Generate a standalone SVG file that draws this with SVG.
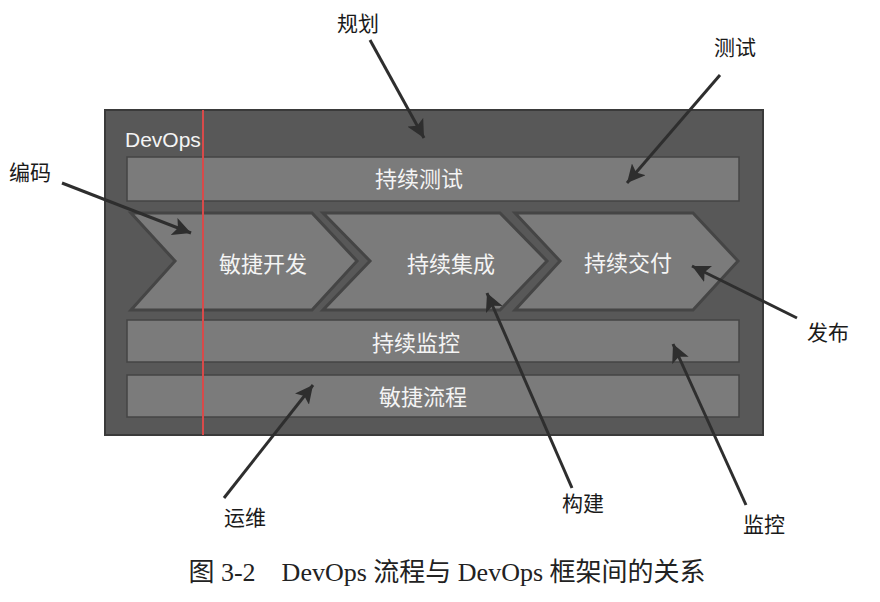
<svg xmlns="http://www.w3.org/2000/svg" width="880" height="602" viewBox="0 0 880 602">
<style>
.lbl{font-family:"Noto Sans CJK SC","Noto Sans",sans-serif;font-size:21px;fill:#1a1a1a;text-anchor:middle;dominant-baseline:central}
.in{font-family:"Noto Sans CJK SC","Noto Sans",sans-serif;font-size:22px;fill:#f4f4f4;text-anchor:middle;dominant-baseline:central}
.bar{fill:#7b7b7b;stroke:#444;stroke-width:1.5}
.chev{fill:#7b7b7b;stroke:#454545;stroke-width:3;stroke-linejoin:miter}
.conn{stroke:#2e2e2e;stroke-width:3;fill:none;marker-end:url(#ah)}
</style>
<defs>
<marker id="ah" markerUnits="userSpaceOnUse" markerWidth="20" markerHeight="18" refX="18" refY="9" orient="auto">
<path d="M0,0 L18,9 L0,18 L4,9 Z" fill="#2e2e2e"/>
</marker>
</defs>
<rect width="880" height="602" fill="#ffffff"/>
<g id="frame">
<rect x="105" y="110" width="658" height="325" fill="#585858" stroke="#3a3a3a" stroke-width="2"/>
<text x="125" y="147" font-family="Liberation Sans, Arial, sans-serif" font-size="21" fill="#f4f4f4">DevOps</text>
</g>
<g id="bar-test">
<rect class="bar" x="127" y="157" width="612" height="44"/>
<text class="in" x="419" y="177">持续测试</text>
</g>
<g id="chev-agile">
<polygon class="chev" points="131,213 312,213 357,261 312,310 131,310 175,261"/>
<text class="in" x="263" y="262">敏捷开发</text>
</g>
<g id="chev-ci">
<polygon class="chev" points="323,213 500,213 547,261 500,310 323,310 370,261"/>
<text class="in" x="451" y="262">持续集成</text>
</g>
<g id="chev-cd">
<polygon class="chev" points="515,213 693,213 738,261 693,310 515,310 560,261"/>
<text class="in" x="628" y="261">持续交付</text>
</g>
<g id="bar-monitor">
<rect class="bar" x="127" y="320" width="612" height="42"/>
<text class="in" x="416" y="341">持续监控</text>
</g>
<g id="bar-process">
<rect class="bar" x="127" y="375" width="612" height="42"/>
<text class="in" x="423" y="395">敏捷流程</text>
</g>
<line id="red-line" x1="203" y1="110" x2="203" y2="435" stroke="#d84a4a" stroke-width="2"/>
<g id="connectors">
<line class="conn" x1="370" y1="40" x2="424" y2="138"/>
<line class="conn" x1="720" y1="75" x2="627" y2="183"/>
<line class="conn" x1="62" y1="183" x2="191" y2="233"/>
<line class="conn" x1="797" y1="318" x2="692" y2="266"/>
<line class="conn" x1="572" y1="488" x2="487" y2="293"/>
<line class="conn" x1="746" y1="505" x2="673" y2="344"/>
<line class="conn" x1="224" y1="498" x2="313" y2="385"/>
</g>
<g id="label-plan"><text class="lbl" x="358" y="22">规划</text></g>
<g id="label-test"><text class="lbl" x="735" y="46">测试</text></g>
<g id="label-code"><text class="lbl" x="30" y="171">编码</text></g>
<g id="label-release"><text class="lbl" x="828" y="331">发布</text></g>
<g id="label-ops"><text class="lbl" x="245" y="516">运维</text></g>
<g id="label-build"><text class="lbl" x="583" y="502">构建</text></g>
<g id="label-monitor"><text class="lbl" x="764" y="523">监控</text></g>
<text x="447" y="581" font-family="Liberation Serif, 'Noto Sans CJK SC', serif" font-size="26" fill="#222" text-anchor="middle">图 3-2　DevOps 流程与 DevOps 框架间的关系</text>
</svg>
